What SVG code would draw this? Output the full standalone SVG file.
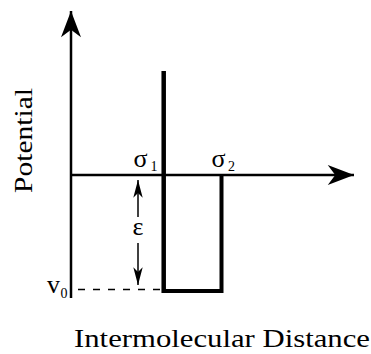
<svg xmlns="http://www.w3.org/2000/svg" width="371" height="354" viewBox="0 0 371 354">
<style>
text{font-family:"Liberation Serif","Times New Roman",serif;fill:#000}
.ax{stroke:#000;stroke-width:2.5;fill:none}
.well{stroke:#000;stroke-width:4;fill:none}
.thin{stroke:#000;stroke-width:1.5;fill:none}
.dash{stroke:#000;stroke-width:1.3;stroke-dasharray:7 8;fill:none}
</style>
<defs>
<marker id="big" markerUnits="userSpaceOnUse" markerWidth="30" markerHeight="30" viewBox="-22 -9 24 18" refX="0" refY="0" orient="auto" overflow="visible">
<path d="M0,0 L-21,-8 L-15,0 L-21,8 Z" fill="#000"/>
</marker>
<marker id="small" markerUnits="userSpaceOnUse" markerWidth="20" markerHeight="20" viewBox="-16 -5 17 10" refX="0" refY="0" orient="auto" overflow="visible">
<path d="M0,0 L-15,-4 L-11,0 L-15,4 Z" fill="#000"/>
</marker>
</defs>
<g id="connectors">
<line class="ax" x1="71" y1="298" x2="71" y2="11" marker-end="url(#big)"/>
<line class="ax" x1="71" y1="175" x2="354" y2="175" marker-end="url(#big)"/>
<line class="thin" x1="138" y1="217" x2="138" y2="180" marker-end="url(#small)"/>
<line class="thin" x1="138" y1="243" x2="138" y2="285" marker-end="url(#small)"/>
<line class="dash" x1="78" y1="289.5" x2="162" y2="289.5"/>
</g>
<g id="well">
<line x1="163.7" y1="71" x2="163.7" y2="293" stroke="#000" stroke-width="4.5"/>
<polyline class="well" points="162,291 221.5,291 221.5,175"/>
</g>
<g id="labels">
<text id="potential" transform="translate(32,140.5) rotate(-90)" font-size="25" text-anchor="middle" textLength="105" lengthAdjust="spacingAndGlyphs">Potential</text>
<text id="xlabel" x="74" y="347" font-size="25" textLength="296" lengthAdjust="spacingAndGlyphs">Intermolecular Distance</text>
<text x="133.5" y="167" font-size="26">σ</text><text x="150.5" y="171" font-size="14">1</text>
<text x="211.5" y="167" font-size="26">σ</text><text x="228" y="171" font-size="14">2</text>
<text x="138" y="235" font-size="26" text-anchor="middle">ε</text>
<text x="47" y="293" font-size="26">v</text><text x="60.5" y="298" font-size="14">0</text>
</g>
</svg>
